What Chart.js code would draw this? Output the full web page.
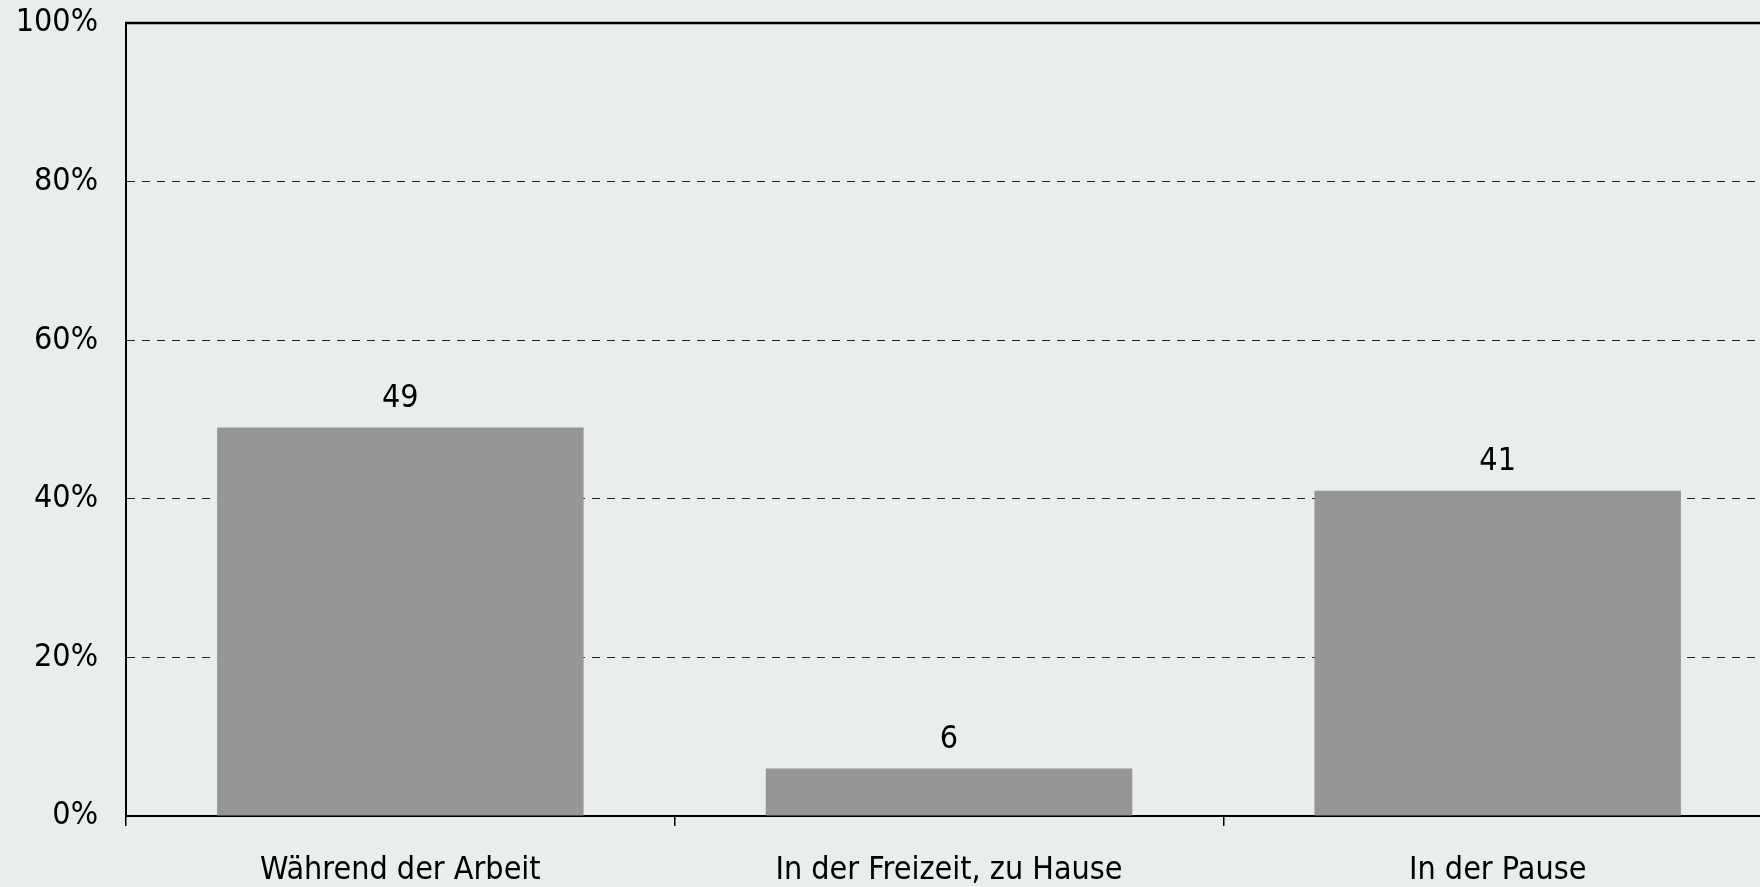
<!DOCTYPE html>
<html>
<head>
<meta charset="utf-8">
<script src="https://cdn.jsdelivr.net/npm/chart.js@4"></script>
<style>
  html, body { margin: 0; padding: 0; background: #e9edee; overflow: hidden; }
  #wrap { width: 1772px; height: 887px; position: relative; }
</style>
</head>
<body>
<div id="wrap"><canvas id="c"></canvas></div>
<script>
// Where the break happens, share of answers in percent.
const categories = ["Während der Arbeit", "In der Freizeit, zu Hause", "In der Pause"];
const shares = [49, 6, 41];
const yTicks = [0, 20, 40, 60, 80, 100];

const FONT = "'DejaVu Sans Condensed', 'DejaVu Sans', sans-serif";
const SIZE = 32;

// value labels above each bar
const valueLabels = {
  id: "valueLabels",
  afterDatasetsDraw(chart) {
    const { ctx } = chart;
    const meta = chart.getDatasetMeta(0);
    ctx.save();
    ctx.font = `${SIZE}px ${FONT}`;
    ctx.fillStyle = "#000";
    ctx.textAlign = "center";
    ctx.textBaseline = "middle";
    meta.data.forEach((bar, i) => {
      ctx.fillText(String(shares[i]), bar.x, bar.y - 29);
    });
    ctx.restore();
  },
};

// top frame line
const topLine = {
  id: "topLine",
  afterDraw(chart) {
    const { ctx, chartArea: a } = chart;
    ctx.save();
    ctx.strokeStyle = "#000";
    ctx.lineWidth = 2.5;
    ctx.beginPath();
    ctx.moveTo(a.left - 1, a.top);
    ctx.lineTo(a.right, a.top);
    ctx.stroke();
    ctx.restore();
  },
};

new Chart(document.getElementById("c"), {
  type: "bar",
  data: {
    labels: categories,
    datasets: [{
      data: shares,
      backgroundColor: "#969696",
      barPercentage: 0.668,
      categoryPercentage: 1,
    }],
  },
  options: {
    responsive: true,
    maintainAspectRatio: false,
    animation: false,
    layout: { padding: { top: 23, left: 0, right: 0, bottom: 0 } },
    plugins: { legend: { display: false }, tooltip: { enabled: false } },
    scales: {
      x: {
        afterFit(s) { s.height = 71; },
        grid: { offset: true, drawOnChartArea: false, drawTicks: true, tickLength: 10, color: "#000", lineWidth: 1.5 },
        border: { display: true, color: "#000", width: 2 },
        ticks: { color: "#000", padding: 25, font: { family: FONT, size: SIZE } },
      },
      y: {
        min: 0,
        max: 100,
        afterFit(s) {
          s.width = 126;
          s.paddingTop = 0;
          s.paddingBottom = 0;
        },
        afterBuildTicks(s) { s.ticks = yTicks.map((v) => ({ value: v })); },
        grid: { drawTicks: false, color: "#222", lineWidth: 1 },
        border: { display: true, color: "#000", width: 2, dash: [8, 7] },
        ticks: { color: "#000", padding: 28, font: { family: FONT, size: SIZE }, callback: (v) => v + "%" },
      },
    },
  },
  plugins: [valueLabels, topLine],
});
</script>
</body>
</html>
